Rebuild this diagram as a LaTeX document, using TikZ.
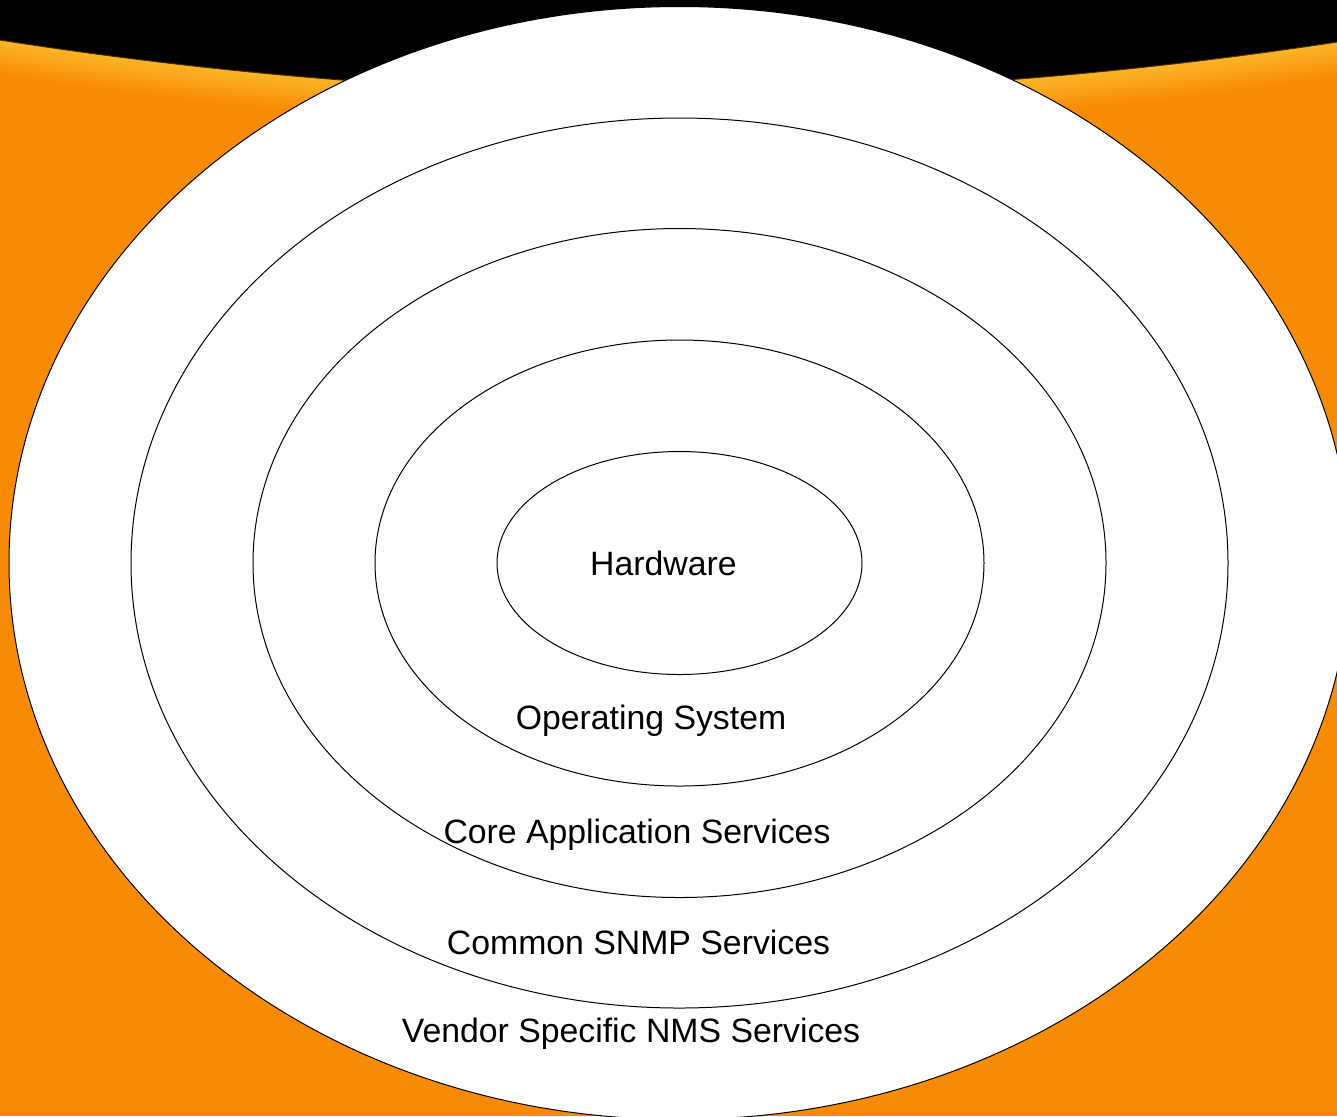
\documentclass[tikz,border=0pt]{standalone}
\usepackage{fontspec}
\setmainfont{Liberation Sans}
\definecolor{bgorange}{RGB}{249,139,4}
\definecolor{bglight}{RGB}{252,184,42}

\begin{document}
\begin{tikzpicture}
  [ x=0.5pt, y=-0.5pt,
    ring/.style={draw=black, fill=white, line width=0.5pt},
    layer/.style={font=\fontsize{16.9}{19}\selectfont, anchor=base, inner sep=0pt}]
  \useasboundingbox (0,0) rectangle (1337,1116);
  \clip (0,0) rectangle (1337,1116);

  % background
  \fill[bgorange] (0,0) rectangle (1337,1116);
  \foreach \d in {36,33,...,0}{
    \pgfmathtruncatemacro\p{100-\d*100/36}
    \fill[bglight!\p!bgorange] (0,0) -- (0,40+\d)
      .. controls (446,110+\d) and (891,110+\d) .. (1337,42+\d)
      -- (1337,0) -- cycle;
  }
  \fill[black] (-2,-2) -- (-2,40) -- (0,40)
    .. controls (446,110) and (891,110) .. (1337,42)
    -- (1339,42) -- (1339,-2) -- cycle;
  \draw[black!70!bgorange, line width=0.5pt] (0,40)
    .. controls (446,110) and (891,110) .. (1337,42);

  % rings, outer to inner
  \foreach \rx/\ry in {670.5/556.5, 548.5/445, 426.5/334.5, 304.5/223, 182.5/111.5}
    \draw[ring] (679.5,563) ellipse [x radius=\rx, y radius=\ry];

  \node[layer] (hardware) at (663.5,575)  {Hardware};
  \node[layer] (os)       at (651,729)    {Operating System};
  \node[layer] (core)     at (637,843)    {Core Application Services};
  \node[layer] (snmp)     at (638.5,954)  {Common SNMP Services};
  \node[layer] (vendor)   at (631,1042)   {Vendor Specific NMS Services};
\end{tikzpicture}
\end{document}
